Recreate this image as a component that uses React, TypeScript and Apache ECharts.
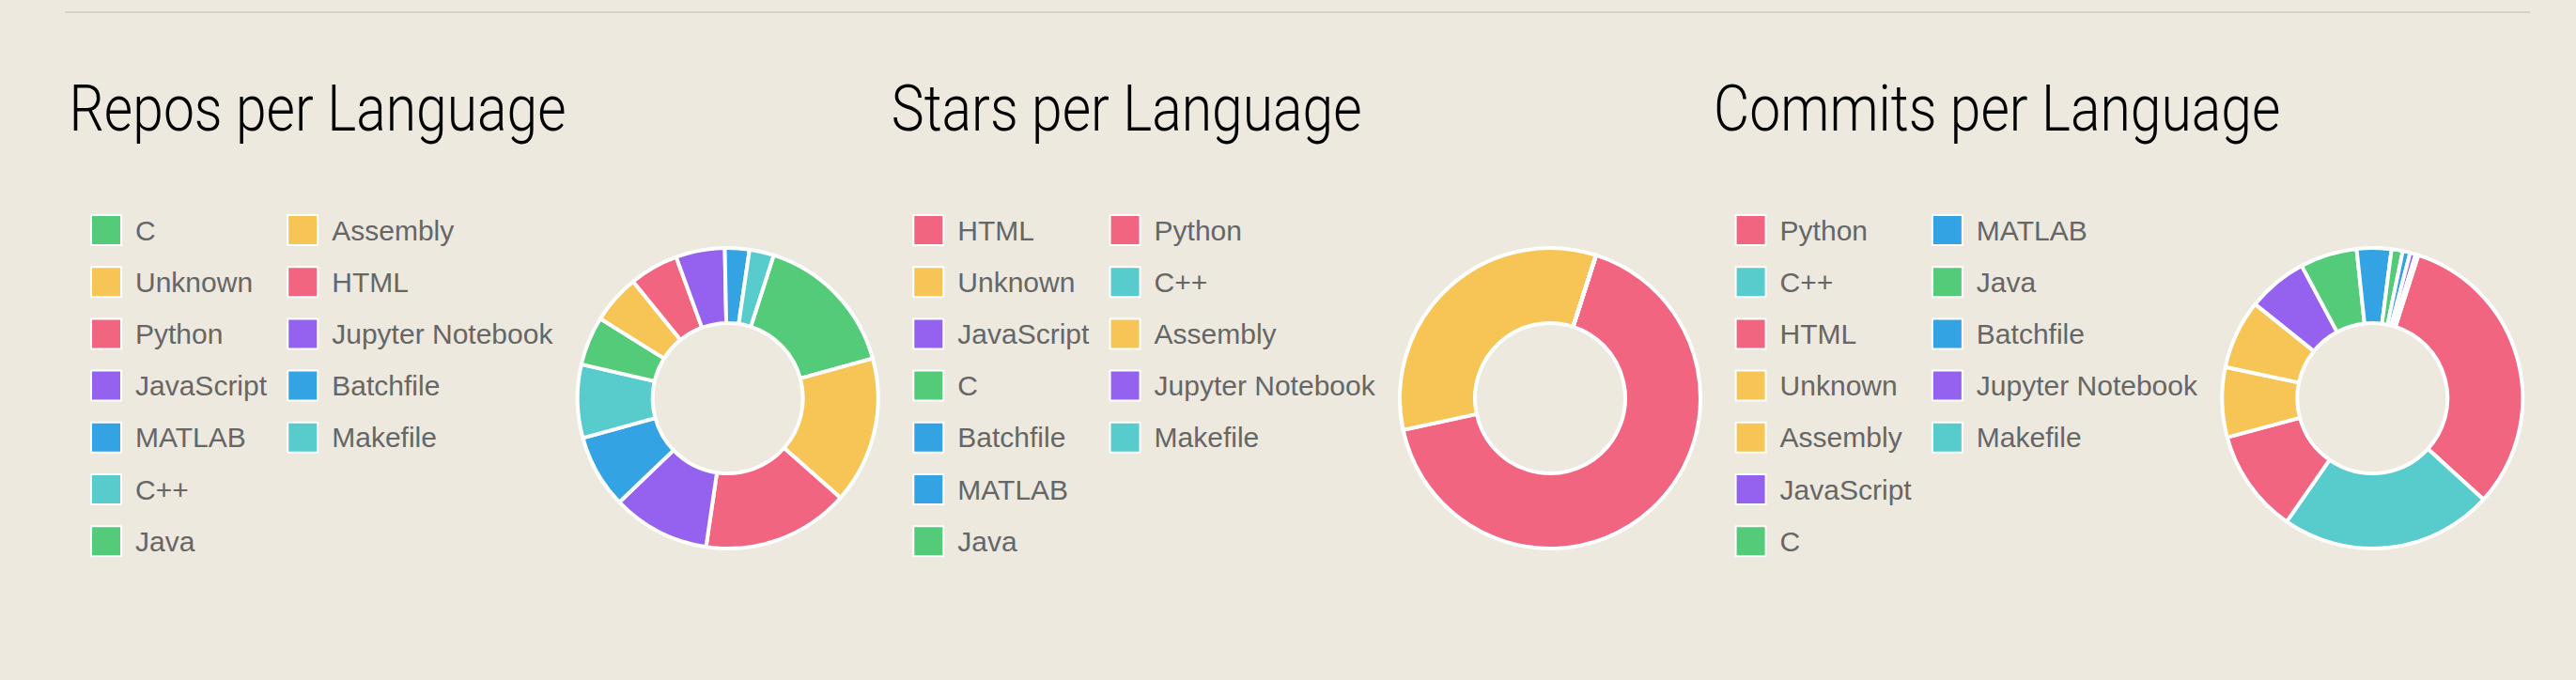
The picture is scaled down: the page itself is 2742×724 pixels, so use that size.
import React, { useEffect, useRef } from 'react';
import * as echarts from 'echarts';

// ---- data ----
const repoLanguages = ['C', 'Unknown', 'Python', 'JavaScript', 'MATLAB', 'C++', 'Java', 'Assembly', 'HTML', 'Jupyter Notebook', 'Batchfile', 'Makefile'];
const repoCounts = [6, 6, 6, 4, 3, 3, 2, 2, 2, 2, 1, 1];

const starLanguages = ['HTML', 'Unknown', 'JavaScript', 'C', 'Batchfile', 'MATLAB', 'Java', 'Python', 'C++', 'Assembly', 'Jupyter Notebook', 'Makefile'];
const starCounts = [2, 1, 0, 0, 0, 0, 0, 0, 0, 0, 0, 0];

const commitLanguages = ['Python', 'C++', 'HTML', 'Unknown', 'Assembly', 'JavaScript', 'C', 'MATLAB', 'Java', 'Batchfile', 'Jupyter Notebook', 'Makefile'];
const commitCounts = [317, 228, 111, 75, 74, 64, 61, 37, 12, 8, 6, 3];

const titles = ['Repos per Language', 'Stars per Language', 'Commits per Language'];

// ---- style ----
const palette = ['#54cb78', '#f6c555', '#f16581', '#9562f0', '#33a3e3', '#58cccc'];
const colorOf = (name: string) => palette[repoLanguages.indexOf(name) % palette.length];

const BG = '#ede9df';
const PANEL_W = 875.3;

export default function App() {
  const ref = useRef<HTMLDivElement>(null);

  useEffect(() => {
    if (!ref.current) return;
    const chart = echarts.init(ref.current, null, { renderer: 'svg' });

    const panels = [
      { names: repoLanguages, values: repoCounts },
      { names: starLanguages, values: starCounts },
      { names: commitLanguages, values: commitCounts },
    ];

    const option: any = {
      animation: false,
      backgroundColor: BG,
      graphic: [
        {
          type: 'rect',
          shape: { x: 69, y: 12, width: 2624, height: 2 },
          style: { fill: '#d6d1c6' },
          silent: true,
        },
        ...titles.map((t, i) => ({
          type: 'text',
          x: 73.5 + i * PANEL_W,
          y: 116,
          scaleX: 0.865,
          silent: true,
          style: {
            text: t,
            fontFamily: 'Roboto, sans-serif',
            fontWeight: 300,
            fontSize: 68,
            fill: '#000',
            align: 'left',
            verticalAlign: 'middle',
          },
        })),
      ],
      legend: panels.map((p, i) => ({
        orient: 'vertical',
        left: 96 + i * PANEL_W,
        top: 228,
        height: 390,
        padding: 0,
        itemWidth: 32,
        itemHeight: 32,
        itemGap: 21.2,
        icon: 'rect',
        selectedMode: false,
        itemStyle: { borderColor: '#ffffff', borderWidth: 2 },
        textStyle: {
          fontFamily: '"Liberation Sans", Arial, sans-serif',
          fontSize: 30,
          color: '#666666',
          padding: [0, 0, 0, 10],
        },
        data: p.names,
      })),
      series: panels.map((p, i) => ({
        type: 'pie',
        center: [774.7 + i * PANEL_W, 424],
        radius: [80, 160],
        startAngle: 72.2,
        clockwise: true,
        label: { show: false },
        labelLine: { show: false },
        emphasis: { disabled: true },
        itemStyle: { borderColor: '#ffffff', borderWidth: 4 },
        data: p.names.map((n, j) => ({
          name: n,
          value: p.values[j],
          itemStyle: { color: colorOf(n) },
        })),
      })),
    };

    chart.setOption(option);
    return () => chart.dispose();
  }, []);

  return (
    <div
      ref={ref}
      style={{ position: 'absolute', left: 0, top: 0, width: 2742, height: 724, background: BG }}
    />
  );
}
